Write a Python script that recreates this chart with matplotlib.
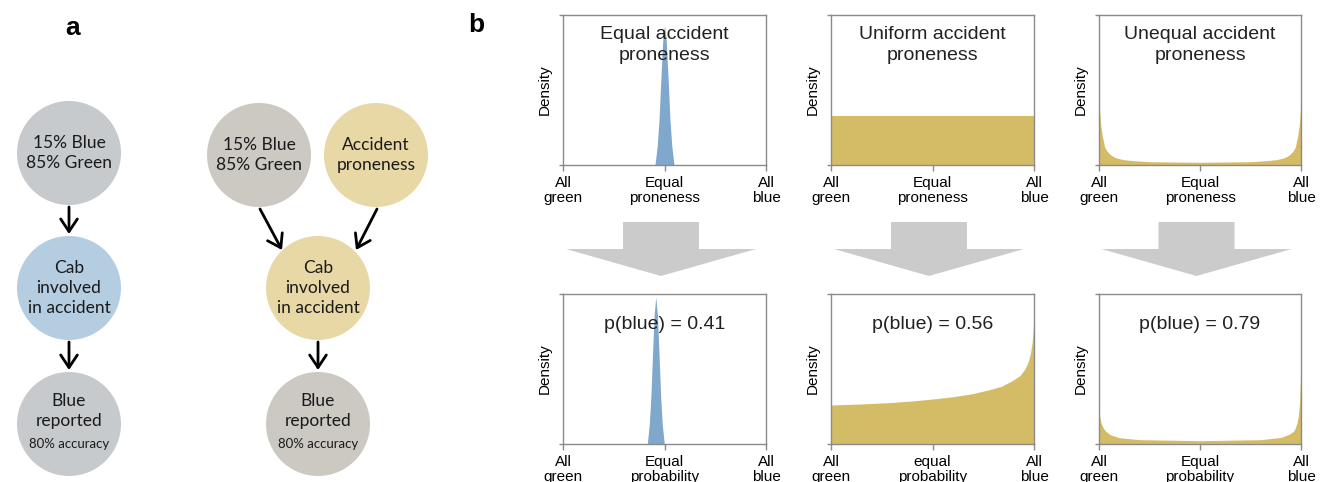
import matplotlib
matplotlib.use("Agg")
import matplotlib.pyplot as plt
from matplotlib.patches import Circle, Polygon

# ---------------- data ----------------
col_titles = ["Equal accident\nproneness", "Uniform accident\nproneness", "Unequal accident\nproneness"]
p_blue_values = ["0.41", "0.56", "0.79"]
top_xticklabels = [["All\ngreen", "Equal\nproneness", "All\nblue"]] * 3
bottom_xticklabels = [["All\ngreen", "Equal\nprobability", "All\nblue"],
                      ["All\ngreen", "equal\nprobability", "All\nblue"],
                      ["All\ngreen", "Equal\nprobability", "All\nblue"]]
xtick_positions = [0.0, 0.5, 1.0]

# prior densities (x: green->blue, y: fraction of axis height)
equal_prior_x = [0.453, 0.464, 0.473, 0.482, 0.491, 0.500, 0.509, 0.518, 0.527, 0.536, 0.547]
equal_prior_y = [0.0, 0.125, 0.30, 0.57, 0.82, 0.93, 0.82, 0.57, 0.30, 0.125, 0.0]
uniform_prior_x = [0.0, 1.0]
uniform_prior_y = [0.33, 0.33]
unequal_prior_x = [0.0, 0.004, 0.009, 0.017, 0.028, 0.04, 0.053, 0.07, 0.086, 0.12, 0.17, 0.25, 0.5,
                   0.75, 0.83, 0.88, 0.914, 0.93, 0.947, 0.96, 0.972, 0.983, 0.991, 0.996, 1.0]
unequal_prior_y = [0.43, 0.34, 0.26, 0.19, 0.12, 0.092, 0.073, 0.057, 0.047, 0.036, 0.029, 0.022, 0.018,
                   0.022, 0.029, 0.036, 0.047, 0.057, 0.073, 0.092, 0.12, 0.19, 0.26, 0.34, 0.43]

# posterior densities
equal_post_x = [0.415, 0.425, 0.433, 0.441, 0.449, 0.457, 0.465, 0.473, 0.481, 0.489, 0.499]
equal_post_y = [0.0, 0.13, 0.32, 0.60, 0.86, 0.98, 0.86, 0.60, 0.32, 0.13, 0.0]
uniform_post_x = [0.0, 0.15, 0.29, 0.4, 0.5, 0.6, 0.7, 0.785, 0.84, 0.89, 0.93, 0.955, 0.972,
                  0.983, 0.991, 0.996, 1.0]
uniform_post_y = [0.26, 0.267, 0.276, 0.287, 0.30, 0.315, 0.336, 0.364, 0.385, 0.42, 0.455, 0.50,
                  0.55, 0.61, 0.68, 0.76, 0.87]
unequal_post_x = [0.0, 0.004, 0.01, 0.02, 0.03, 0.045, 0.06, 0.1, 0.2, 0.5, 0.8, 0.9, 0.94, 0.96,
                  0.97, 0.98, 0.987, 0.993, 0.997, 1.0]
unequal_post_y = [0.22, 0.18, 0.14, 0.11, 0.09, 0.072, 0.06, 0.042, 0.029, 0.022, 0.029, 0.044,
                  0.064, 0.082, 0.10, 0.14, 0.19, 0.28, 0.42, 0.72]

priors = [(equal_prior_x, equal_prior_y), (uniform_prior_x, uniform_prior_y), (unequal_prior_x, unequal_prior_y)]
posts = [(equal_post_x, equal_post_y), (uniform_post_x, uniform_post_y), (unequal_post_x, unequal_post_y)]

# panel a nodes
left_nodes = ["15% Blue\n85% Green", "Cab\ninvolved\nin accident", "Blue\nreported"]
right_nodes = ["15% Blue\n85% Green", "Accident\nproneness", "Cab\ninvolved\nin accident", "Blue\nreported"]
accuracy_label = "80% accuracy"

# ---------------- styles ----------------
W, H = 1326, 482
BLUE_D = "#7FA8CC"
YEL_D = "#D4BC66"
GRAY_A = "#C6CACD"
GRAY_B = "#CCC9C3"
BLUE_C = "#B4CDE0"
YEL_C = "#E8D8A5"
ARROW_G = "#CBCBCB"
SPINE = "#8A8A8A"
curve_colors = [BLUE_D, YEL_D, YEL_D]
FONT_B = "Liberation Sans"
FONT_A = "Lato"

fig = plt.figure(figsize=(W / 100, H / 100), dpi=100)
bg = fig.add_axes([0, 0, 1, 1])
bg.set_xlim(0, W)
bg.set_ylim(H, 0)
bg.axis("off")

# panel letters
bg.text(73, 28, "a", fontsize=19, fontweight="bold", family=FONT_B, ha="center", va="center")
bg.text(476, 25, "b", fontsize=19, fontweight="bold", family=FONT_B, ha="center", va="center")

# ---------------- panel a ----------------
R = 52
left_centers = [(69, 153), (69, 288), (69, 424)]
left_colors = [GRAY_A, BLUE_C, GRAY_A]
right_centers = [(259, 155), (376, 155), (318, 288), (318, 424)]
right_colors = [GRAY_B, YEL_C, YEL_C, GRAY_B]


def node(c, col, label, has_acc=False):
    bg.add_patch(Circle(c, R, facecolor=col, edgecolor="none"))
    dy = -13 if has_acc else 0
    bg.text(c[0], c[1] + dy, label, ha="center", va="center", fontsize=12.5,
            family=FONT_A, color="#1a1a1a", linespacing=1.3)
    if has_acc:
        bg.text(c[0], c[1] + 20, accuracy_label, ha="center", va="center",
                fontsize=9.5, family=FONT_A, color="#1a1a1a")


for i, (c, col, lab) in enumerate(zip(left_centers, left_colors, left_nodes)):
    node(c, col, lab, has_acc=(i == 2))
for i, (c, col, lab) in enumerate(zip(right_centers, right_colors, right_nodes)):
    node(c, col, lab, has_acc=(i == 3))

aprops = dict(arrowstyle="->,head_length=0.45,head_width=0.3", lw=2, color="black",
              shrinkA=0, shrinkB=0, mutation_scale=20)
for (x0, y0, x1, y1) in [(69, 207, 69, 234), (69, 342, 69, 370),
                         (260, 209, 282, 250), (377, 209, 356, 250), (318, 342, 318, 370)]:
    bg.annotate("", xy=(x1, y1), xytext=(x0, y0), arrowprops=aprops)

# ---------------- panel b ----------------
col_left = [563, 831, 1099]
col_w = [203, 203, 202]
row_top = [15, 294]
row_h = [150, 150]


def make_ax(px, py, pw, ph):
    return fig.add_axes([px / W, 1 - (py + ph) / H, pw / W, ph / H])


for ci in range(3):
    for ri in range(2):
        ax = make_ax(col_left[ci], row_top[ri], col_w[ci], row_h[ri])
        xs, ys = (priors if ri == 0 else posts)[ci]
        ax.fill_between(xs, 0, ys, color=curve_colors[ci], linewidth=0)
        ax.set_xlim(0, 1)
        ax.set_ylim(0, 1)
        for s in ax.spines.values():
            s.set_color(SPINE)
            s.set_linewidth(1.0)
        ax.set_yticks([0, 1])
        ax.set_yticklabels([])
        ax.tick_params(axis="y", length=3, color=SPINE, width=1)
        ax.set_xticks(xtick_positions)
        labs = top_xticklabels[ci] if ri == 0 else bottom_xticklabels[ci]
        ax.set_xticklabels(labs, fontsize=11, family=FONT_B, linespacing=1.05)
        ax.tick_params(axis="x", length=4, color=SPINE, width=1, pad=4)
        ax.text(-0.09, 0.5, "Density", rotation=90, transform=ax.transAxes,
                ha="center", va="center", fontsize=11, family=FONT_B)
        if ri == 0:
            ax.text(0.5, 0.80, col_titles[ci], transform=ax.transAxes, ha="center",
                    va="center", fontsize=14, family=FONT_B, color="#222222", linespacing=1.28)
        else:
            ax.text(0.5, 0.795, "p(blue) = " + p_blue_values[ci], transform=ax.transAxes,
                    ha="center", va="center", fontsize=14, family=FONT_B, color="#222222")

    # big gray arrow between rows
    cx = col_left[ci] + col_w[ci] / 2 - 3.5
    shaft_hw, head_hw = 38, 95
    y_top, y_base, y_tip = 222, 249, 276
    pts = [(cx - shaft_hw, y_top), (cx + shaft_hw, y_top), (cx + shaft_hw, y_base),
           (cx + head_hw, y_base), (cx, y_tip), (cx - head_hw, y_base), (cx - shaft_hw, y_base)]
    bg.add_patch(Polygon(pts, closed=True, facecolor=ARROW_G, edgecolor="none"))

fig.savefig("out.png", dpi=100)
